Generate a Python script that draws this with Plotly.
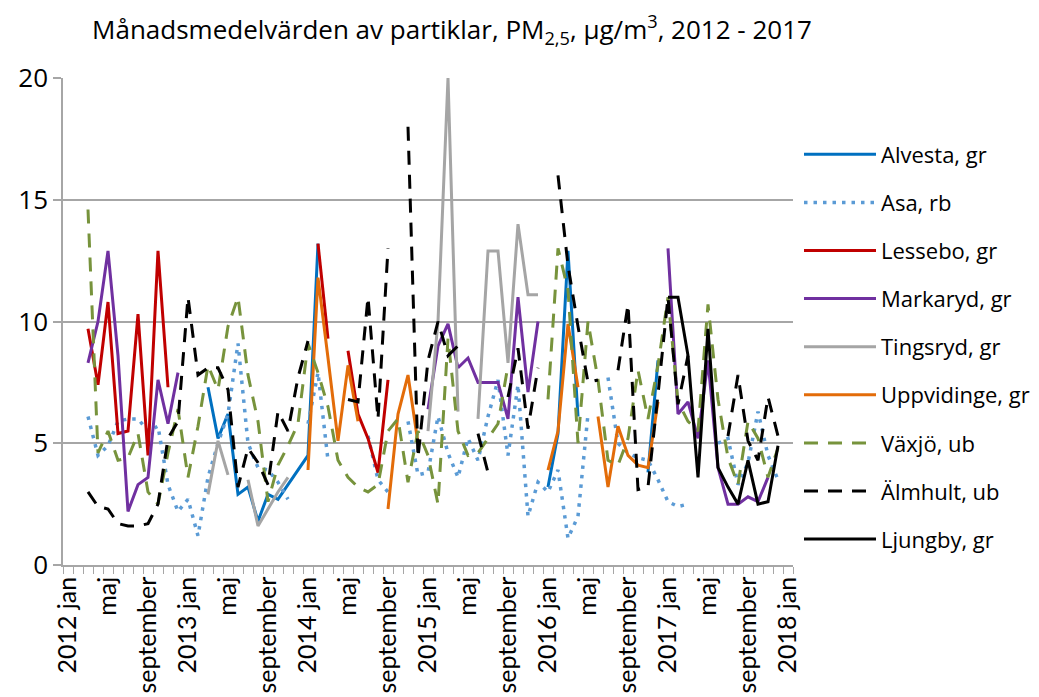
import plotly.graph_objects as go

# ---- categories (months) ----
years = [2012, 2013, 2014, 2015, 2016, 2017]
month_names = ["jan", "feb", "mars", "april", "maj", "juni", "juli", "augusti",
               "september", "oktober", "november", "december"]
categories = [f"{y} {m}" for y in years for m in month_names] + ["2018 jan"]
N = None

# ---- series values (µg/m3), one value per month, 2012 jan .. 2018 jan ----
alvesta = ([N]*12 +
           [N, N, 7.3, 5.2, 6.2, 2.9, 3.2, 1.8, 2.9, 2.7, 3.3, 3.9] +
           [4.5, 13.2, N, N, N, N, N, N, N, N, N, N] +
           [N]*12 +
           [3.2, 5.4, 12.9, 6.1, N, N, N, N, N, N, 3.8, 8.4] +
           [N]*12 + [N])
asa = ([N, N, 6.1, 4.5, 4.9, 5.9, 6.0, 6.0, 5.5, 5.7, 3.3, 2.2] +
       [2.7, 1.2, 3.6, 5.0, 6.2, 9.1, 5.0, 4.0, 3.9, 3.4, 2.7, N] +
       [5.8, 7.9, 4.3, N, N, N, 5.3, 3.5, 3.0, N, 5.9, 3.7] +
       [3.8, 6.1, 4.6, 3.6, 5.2, 4.3, 6.1, 7.6, 4.5, 7.4, 2.0, 3.4] +
       [3.0, 3.9, 1.1, 2.0, 6.2, N, 7.7, 5.0, 4.6, 4.4, 4.3, 3.5] +
       [2.6, 2.4, 2.5, N, N, 5.0, 5.2, 3.3, 4.2, 6.3, 4.5, 3.5] + [N])
lessebo = ([N, N, 9.7, 7.4, 10.8, 5.4, 5.5, 10.3, 4.5, 12.9, 7.3, N] +
           [N]*12 +
           [N, 13.2, 9.3, N, 8.8, 6.2, 5.2, 3.8, 7.6, N, N, N] +
           [N]*36 + [N])
markaryd = ([N, N, 8.3, 10.0, 12.9, 8.6, 2.2, 3.3, 3.6, 7.6, 5.8, 7.9] +
            [N]*24 +
            [6.4, 9.0, 9.9, 8.1, 8.5, 7.5, 7.5, 7.5, 6.0, 11.0, 7.1, 10.0] +
            [N]*12 +
            [13.0, 6.2, 6.7, 5.2, 8.4, 4.0, 2.5, 2.5, 2.8, 2.6, 3.6, N] + [N])
tingsryd = ([N]*12 +
            [N, N, 2.9, 5.1, 3.7, N, 3.5, 1.6, 2.3, 3.0, 3.6, N] +
            [N]*12 +
            [5.5, 10.0, 20.0, 6.3, N, 6.0, 12.9, 12.9, 8.3, 14.0, 11.1, 11.1] +
            [N]*24 + [N])
uppvidinge = ([N]*24 +
              [3.9, 11.8, 8.5, 5.1, 8.2, 5.9, N, N, 2.3, 6.2, 7.8, 5.0] +
              [N]*12 +
              [3.9, 5.5, 9.9, 7.3, N, 6.1, 3.2, 5.7, 4.5, 4.1, 4.0, 6.7] +
              [N]*12 + [N])
vaxjo = ([N, N, 14.6, 4.6, 5.5, 4.3, 4.4, 5.4, 3.0, 2.5, 4.6, 6.4] +
         [3.6, 5.7, 8.2, 7.2, 9.8, 11.0, 7.8, 5.9, 2.6, 4.1, 4.9, 5.8] +
         [9.1, 7.9, 6.5, 4.3, 3.6, 3.2, 3.0, 3.3, 5.5, 6.0, 3.4, 5.5] +
         [4.5, 2.5, 9.3, 5.5, 4.5, 4.6, 5.2, 5.8, 8.2, N, N, N] +
         [6.8, 13.0, 11.3, 5.0, 10.0, 7.6, 4.3, 4.1, 5.2, 8.0, 6.0, 8.2] +
         [11.0, 6.7, 5.9, 5.5, 10.7, 6.8, 4.4, 3.3, 5.9, 5.2, 3.6, 4.8] + [N])
almhult = ([N, N, 3.0, 2.4, 2.3, 1.7, 1.6, 1.6, 1.7, 2.5, 5.2, 5.9] +
           [11.0, 7.8, 8.1, 8.1, 7.2, 3.2, 4.8, 4.2, 3.3, 6.3, 5.5, 7.7] +
           [9.2, N, N, N, 6.8, 6.7, 11.0, 6.0, 13.0, N, 18.0, 4.4] +
           [8.4, 10.0, 8.6, 9.0, N, 5.4, 3.8, N, 6.9, 8.9, 5.6, 8.1] +
           [N, 16.0, 12.3, 9.8, 7.5, 7.6, N, 8.0, 10.7, 3.1, 3.2, 7.0] +
           [11.0, 6.6, 8.6, N, 6.5, N, 5.3, 7.8, 5.1, 4.3, 6.9, 5.3] + [N])
ljungby = ([N]*60 +
           [11.0, 11.0, 8.6, 3.6, 9.7, 4.0, 3.2, 2.5, 4.3, 2.5, 2.6, 4.9] + [N])

series_names = ["Alvesta, gr", "Asa, rb", "Lessebo, gr", "Markaryd, gr", "Tingsryd, gr",
                "Uppvidinge, gr", "Växjö, ub", "Älmhult, ub", "Ljungby, gr"]
series_values = [alvesta, asa, lessebo, markaryd, tingsryd, uppvidinge, vaxjo, almhult, ljungby]
series_colors = ["#0070C0", "#5B9BD5", "#C00000", "#7030A0", "#A5A5A5",
                 "#E36C09", "#77933C", "#000000", "#000000"]
series_dash = ["solid", "3.5px,6px", "solid", "solid", "solid",
               "solid", "14px,10px", "14px,10px", "solid"]

# tick labels every 4th month
tick_idx = list(range(0, len(categories), 4))
tick_text = []
for i in tick_idx:
    y, m = categories[i].split(" ")
    tick_text.append(categories[i] if m == "jan" else m)

x_pos = list(range(len(categories)))

fig = go.Figure()
for name, vals, col, dash in zip(series_names, series_values, series_colors, series_dash):
    fig.add_trace(go.Scatter(
        x=x_pos, y=vals, name=name, mode="lines", legendgroup=name,
        line=dict(color=col, width=3.5 if dash.startswith("3.5") else 3, dash=dash),
        connectgaps=False,
    ))

FONT = "'Open Sans', 'Liberation Sans', Arial, sans-serif"
XFONT = "Lato, 'Liberation Sans', Arial, sans-serif"
GRID = "#A6A6A6"

fig.update_layout(
    width=1031, height=689,
    margin=dict(l=55, r=246, t=70, b=132, autoexpand=False),
    paper_bgcolor="white", plot_bgcolor="white",
    font=dict(family=FONT, size=22, color="#000000"),
    title=dict(
        text="Månadsmedelvärden av partiklar, PM<sub>2,5</sub>, µg/m<sup>3</sup>, 2012 - 2017",
        font=dict(family=FONT, size=26, color="#000000"),
        x=(452 - 8) / 1031, xref="container", xanchor="center",
        y=1 - (30 - 8) / 689, yref="container", yanchor="middle",
    ),
    xaxis=dict(
        range=[-0.5, len(categories) - 0.5],
        tickmode="array", tickvals=tick_idx, ticktext=tick_text,
        tickangle=-90, ticks="", showgrid=False, zeroline=False,
        showline=True, linecolor=GRID, linewidth=1.5,
        tickfont=dict(family=XFONT, size=25, color="#000000"),
        automargin=False,
        minor=dict(tickmode="linear", tick0=-0.5, dtick=1, ticks="outside",
                   ticklen=7, tickcolor=GRID, tickwidth=1.2, showgrid=False),
    ),
    yaxis=dict(
        range=[0, 20], tickmode="array", tickvals=[0, 5, 10, 15, 20],
        showgrid=True, gridcolor=GRID, gridwidth=1.5, zeroline=False,
        showline=True, linecolor=GRID, linewidth=1.5,
        ticks="outside", ticklen=8, tickcolor=GRID, tickwidth=1.5,
        tickfont=dict(family=FONT, size=26, color="#000000"),
        automargin=False,
    ),
    legend=dict(
        x=1.0 + 6 / 730, xanchor="left", y=0.886, yanchor="top",
        font=dict(family=FONT, size=22, color="#000000"),
        tracegroupgap=16.5, itemwidth=72, bgcolor="rgba(0,0,0,0)",
    ),
    showlegend=True,
)

fig.write_html("out.html")
